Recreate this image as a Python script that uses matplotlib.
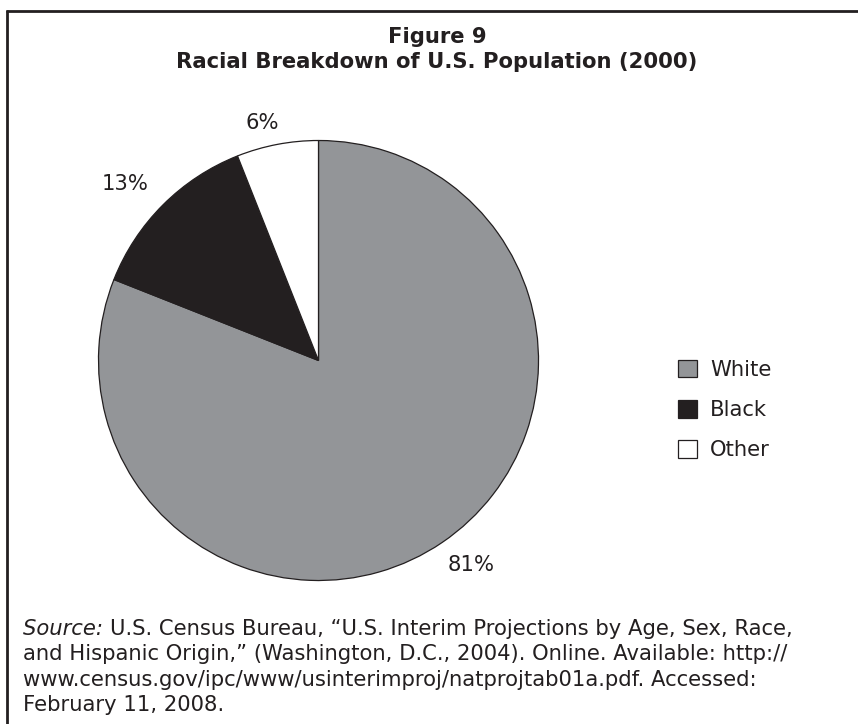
import matplotlib
matplotlib.use("Agg")
import numpy as np
import matplotlib.pyplot as plt
from matplotlib.lines import Line2D
from matplotlib.patches import Patch

# ---- data ----
categories = ["White", "Black", "Other"]
shares = [81, 13, 6]
colors = ["#939598", "#231f20", "#ffffff"]
title_lines = ["Figure 9", "Racial Breakdown of U.S. Population (2000)"]
source_lines = [
    "U.S. Census Bureau, \u201cU.S. Interim Projections by Age, Sex, Race,",
    "and Hispanic Origin,\u201d (Washington, D.C., 2004). Online. Available: http://",
    "www.census.gov/ipc/www/usinterimproj/natprojtab01a.pdf. Accessed:",
    "February 11, 2008.",
]

W, H = 858, 724
TXT = "#231f20"
FS = 15.2
plt.rcParams["font.family"] = ["DejaVu Sans"]

fig = plt.figure(figsize=(W / 100, H / 100), dpi=100)
fig.patch.set_facecolor("white")

def fx(px):
    return px / W

def fy(py):
    return 1 - py / H

# border (top and left lines)
fig.add_artist(Line2D([fx(6), fx(858)], [fy(11.3), fy(11.3)], color=TXT, lw=2.0,
                      transform=fig.transFigure, solid_capstyle="butt"))
fig.add_artist(Line2D([fx(7.3), fx(7.3)], [fy(10), fy(724)], color=TXT, lw=2.0,
                      transform=fig.transFigure, solid_capstyle="butt"))

# titles
fig.text(fx(437), fy(43), title_lines[0], ha="center", va="baseline",
         fontsize=FS, fontweight="bold", color=TXT)
fig.text(fx(437), fy(68), title_lines[1], ha="center", va="baseline",
         fontsize=FS, fontweight="bold", color=TXT)

# pie
cx, cy, r = 318.5, 360.5, 220
ax = fig.add_axes([fx(cx - r), fy(cy + r), (2 * r) / W, (2 * r) / H])
wedges, texts, autotexts = ax.pie(
    shares, colors=colors, startangle=90, counterclock=False, radius=1,
    autopct="%.0f%%", pctdistance=1.15,
    wedgeprops=dict(edgecolor=TXT, linewidth=0.9),
    textprops=dict(fontsize=FS, color=TXT),
)
# fine placement of percentage labels
label_dist = [1.16, 1.19, 1.11]
for w, t, d in zip(wedges, autotexts, label_dist):
    ang = np.deg2rad((w.theta1 + w.theta2) / 2 + 2.5)
    t.set_position((d * np.cos(ang), d * np.sin(ang)))
ax.set_xlim(-1, 1)
ax.set_ylim(-1, 1)
ax.set_aspect("equal", adjustable="datalim")
ax.axis("off")

# legend
handles = [Patch(facecolor=c, edgecolor=TXT, linewidth=0.9) for c in colors]
fig.legend(handles, categories, loc="center left",
           bbox_to_anchor=(fx(678), fy(410)), frameon=False,
           fontsize=FS, handlelength=0.9, handleheight=0.9,
           handletextpad=0.62, labelspacing=0.96, labelcolor=TXT,
           borderaxespad=0, borderpad=0)

# source note
x0 = fx(23)
base = [635, 660.5, 686, 711]
fig.canvas.draw()
rend = fig.canvas.get_renderer()
t_src = fig.text(x0, fy(base[0]), "Source: ", ha="left", va="baseline",
                 fontsize=FS, style="italic", color=TXT)
bb = t_src.get_window_extent(renderer=rend)
fig.text(bb.x1 / W, fy(base[0]), source_lines[0], ha="left", va="baseline",
         fontsize=FS, color=TXT)
for i in range(1, 4):
    fig.text(x0, fy(base[i]), source_lines[i], ha="left", va="baseline",
             fontsize=FS, color=TXT)

fig.savefig("out.png", dpi=100, facecolor="white")
